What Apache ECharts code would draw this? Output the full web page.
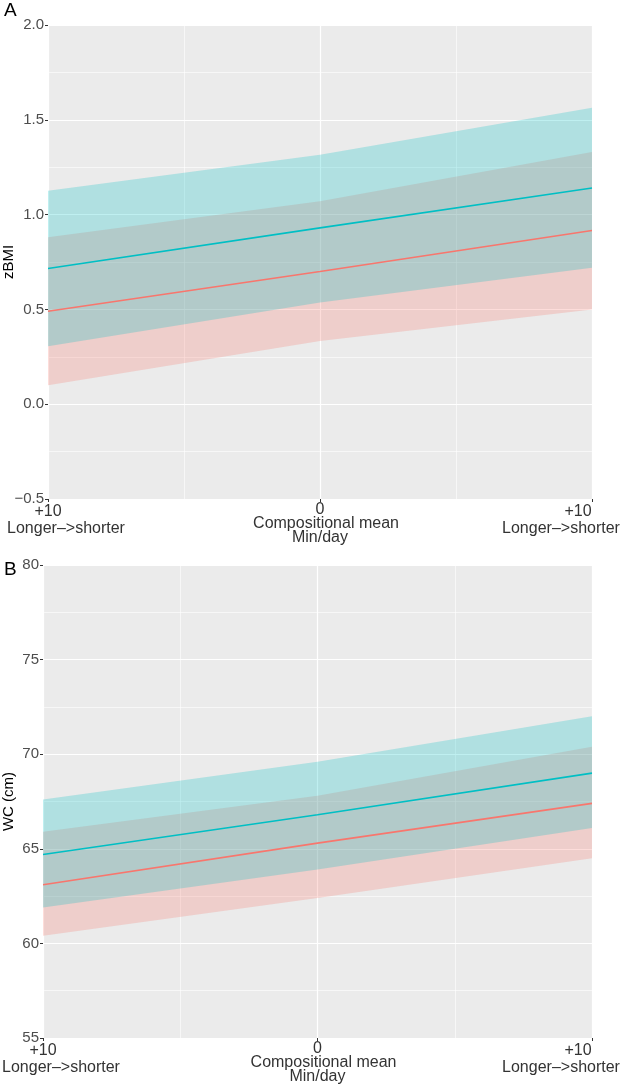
<!DOCTYPE html>
<html>
<head>
<meta charset="utf-8">
<script src="https://cdn.jsdelivr.net/npm/echarts@6/dist/echarts.min.js"></script>
<style>
html,body{margin:0;padding:0;background:#fff;}
#chart{width:627px;height:1085px;}
</style>
</head>
<body>
<div id="chart"></div>
<script>
// ---- data ----
var xValues = [-10, 0, 10];
var xTickLabels = ['+10\nLonger–>shorter', '0\nCompositional mean\nMin/day', '+10\nLonger–>shorter'];

// Panel A: zBMI
var aTealFit  = [0.716, 0.93, 1.14];
var aTealLow  = [0.305, 0.537, 0.72];
var aTealHigh = [1.126, 1.316, 1.563];
var aRedFit   = [0.49, 0.70, 0.916];
var aRedLow   = [0.10, 0.333, 0.50];
var aRedHigh  = [0.88, 1.07, 1.33];

// Panel B: WC (cm)
var bTealFit  = [64.7, 66.8, 69.0];
var bTealLow  = [61.9, 63.9, 66.1];
var bTealHigh = [67.6, 69.6, 72.0];
var bRedFit   = [63.1, 65.3, 67.4];
var bRedLow   = [60.4, 62.4, 64.5];
var bRedHigh  = [65.9, 67.8, 70.4];

var panelTitles = ['A', 'B'];
var yNames = ['zBMI', 'WC (cm)'];

// ---- build ----
var TEAL = '#00BFC4', RED = '#F8766D';
var FONT = '"Liberation Sans", Arial, sans-serif';

function pairs(ys) { return xValues.map(function (x, i) { return [x, ys[i]]; }); }

function bandSeries(idx, name, lo, hi, color) {
  var rows = xValues.map(function (x, i) { return [x, lo[i], hi[i]]; });
  return {
    type: 'custom', name: name, xAxisIndex: idx, yAxisIndex: idx, silent: true,
    data: rows,
    encode: { x: 0, y: [1, 2] },
    renderItem: function (params, api) {
      if (params.dataIndex !== 0) return null;
      var pts = [];
      for (var i = 0; i < rows.length; i++) pts.push(api.coord([rows[i][0], rows[i][2]]));
      for (var j = rows.length - 1; j >= 0; j--) pts.push(api.coord([rows[j][0], rows[j][1]]));
      return { type: 'polygon', shape: { points: pts },
        style: { fill: color, opacity: 0.25, stroke: null } };
    }
  };
}
function fitSeries(idx, name, ys, color) {
  return { type: 'line', name: name, xAxisIndex: idx, yAxisIndex: idx, data: pairs(ys),
    symbol: 'none', lineStyle: { color: color, width: 1.6 }, silent: true };
}

var richX = {
  lTop: { fontSize: 16, fontFamily: FONT, color: '#333', lineHeight: 17 },
  lBot: { fontSize: 16, fontFamily: FONT, color: '#333', lineHeight: 17, padding: [0, 0, 0, 36] },
  cTop: { fontSize: 16, fontFamily: FONT, color: '#333', lineHeight: 14 },
  cMid: { fontSize: 16, fontFamily: FONT, color: '#333', lineHeight: 14, padding: [0, 0, 0, 12] },
  cBot: { fontSize: 16, fontFamily: FONT, color: '#333', lineHeight: 14 },
  rTop: { fontSize: 16, fontFamily: FONT, color: '#333', lineHeight: 17, padding: [0, 28, 0, 0] },
  rBot: { fontSize: 16, fontFamily: FONT, color: '#333', lineHeight: 17, padding: [0, 62, 0, 0] }
};
function xLabel(v) {
  var i = xValues.indexOf(v);
  if (i < 0) return '';
  var lines = xTickLabels[i].split('\n');
  if (i === 0) return '{lTop|' + lines[0] + '}\n{lBot|' + lines[1] + '}';
  if (i === 2) return '{rTop|' + lines[0] + '}\n{rBot|' + lines[1] + '}';
  return '{cTop|' + lines[0] + '}\n{cMid|' + lines[1] + '}\n{cBot|' + lines[2] + '}';
}

function xAxis(idx) {
  return {
    type: 'value', gridIndex: idx, min: -10, max: 10, interval: 10, position: 'bottom',
    axisLine: { show: false, onZero: false },
    axisTick: { show: true, length: 3, lineStyle: { color: '#333' } },
    minorTick: { show: false, splitNumber: 2 },
    splitLine: { show: true, lineStyle: { color: '#FFFFFF', width: 1.2 } },
    minorSplitLine: { show: true, lineStyle: { color: '#FFFFFF', width: 0.6 } },
    axisLabel: { margin: 4, formatter: xLabel, rich: richX, showMinLabel: true, showMaxLabel: true, hideOverlap: false }
  };
}
function yAxis(idx, min, max, interval, decimals, name, gap) {
  return {
    type: 'value', gridIndex: idx, min: min, max: max, interval: interval, position: 'left',
    name: name, nameLocation: 'middle', nameGap: gap, nameMoveOverlap: false,
    nameTextStyle: { fontSize: 15, fontFamily: FONT, color: '#000' },
    axisLine: { show: false, onZero: false },
    axisTick: { show: true, length: 3, lineStyle: { color: '#333' } },
    minorTick: { show: false, splitNumber: 2 },
    splitLine: { show: true, lineStyle: { color: '#FFFFFF', width: 1.2 } },
    minorSplitLine: { show: true, lineStyle: { color: '#FFFFFF', width: 0.6 } },
    axisLabel: { margin: 4, fontSize: 15, fontFamily: FONT, color: '#4D4D4D',
      formatter: function (v) { var s = v.toFixed(decimals); return s.charAt(0) === '-' ? '\u2212' + s.slice(1) : s; } }
  };
}

var series = [];
series.push(bandSeries(0, 'red band', aRedLow, aRedHigh, RED));
series.push(bandSeries(0, 'teal band', aTealLow, aTealHigh, TEAL));
series.push(fitSeries(0, 'red fit', aRedFit, RED));
series.push(fitSeries(0, 'teal fit', aTealFit, TEAL));
series.push(bandSeries(1, 'red band', bRedLow, bRedHigh, RED));
series.push(bandSeries(1, 'teal band', bTealLow, bTealHigh, TEAL));
series.push(fitSeries(1, 'red fit', bRedFit, RED));
series.push(fitSeries(1, 'teal fit', bTealFit, TEAL));

var option = {
  animation: false,
  backgroundColor: '#FFFFFF',
  grid: [
    { left: 48, top: 25, width: 544, height: 474, show: true, backgroundColor: '#EBEBEB', borderWidth: 0,
      containLabel: false, outerBoundsMode: 'none' },
    { left: 43, top: 565, width: 549, height: 473, show: true, backgroundColor: '#EBEBEB', borderWidth: 0,
      containLabel: false, outerBoundsMode: 'none' }
  ],
  xAxis: [xAxis(0), xAxis(1)],
  yAxis: [
    yAxis(0, -0.5, 2.0, 0.5, 1, yNames[0], 32),
    yAxis(1, 55, 80, 5, 0, yNames[1], 27)
  ],
  graphic: [
    { type: 'text', left: 4, top: 1, style: { text: panelTitles[0], fontSize: 19, fontFamily: FONT, fill: '#000' } },
    { type: 'text', left: 4, top: 560, style: { text: panelTitles[1], fontSize: 19, fontFamily: FONT, fill: '#000' } }
  ],
  series: series
};

var chart = echarts.init(document.getElementById('chart'), null, { renderer: 'canvas' });
chart.setOption(option);
</script>
</body>
</html>
